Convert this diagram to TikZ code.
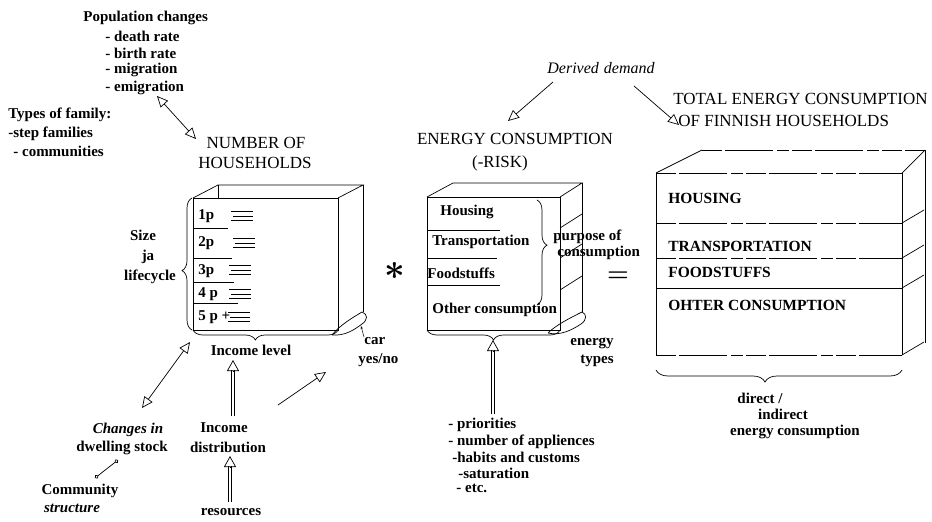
\documentclass[tikz,border=0pt]{standalone}
\usepackage{amsmath,amsfonts,amssymb}
\usepackage{fontspec}
\setmainfont{Liberation Serif}
\usepackage{tikz}
\usetikzlibrary{arrows.meta,decorations.pathreplacing,calc}
\usepackage{xcolor}

\tikzset{
  lbl/.style={font=\fontsize{15}{17}\selectfont\bfseries, inner sep=0pt},
  lblit/.style={font=\fontsize{15}{17}\selectfont\bfseries\itshape, inner sep=0pt},
  titre/.style={font=\fontsize{17}{20}\selectfont, inner sep=0pt},
  boite/.style={font=\fontsize{15.5}{18}\selectfont\bfseries, inner sep=0pt, anchor=west},
  accolade/.style={decorate, decoration={brace, amplitude=#1}},
  accolade/.default=10pt,
  creuse/.style={double, double distance=2.5pt, shorten >=10pt},
  pointe/.style={-{Triangle[open, length=11pt, width=12pt]}},
  tiret/.style={dash pattern=on 20pt off 3pt on 48pt off 4pt on 12pt off 3pt},
}

\begin{document}
\begin{tikzpicture}[x=1pt, y=-1pt, line width=0.7pt, >={Triangle[open, length=11pt, width=10pt]}]
\useasboundingbox (0,0) rectangle (932,522); % cadre de l'image

% Facteurs de population
\node[lbl, anchor=west] (popA) at (83,18) {Population changes};
\node[lbl, anchor=west] (popB) at (105,36) {- death rate};
\node[lbl, anchor=west] (popC) at (105,53) {- birth rate};
\node[lbl, anchor=west] (popD) at (105,70) {- migration};
\node[lbl, anchor=west] (popE) at (105,88) {- emigration};
\node[lbl, anchor=west] (famA) at (8,115) {Types of family:};
\node[lbl, anchor=west] (famB) at (8,134) {-step families};
\node[lbl, anchor=west] (famC) at (13,151) {- communities};

% Les titres
\node[titre] (menA) at (256,143) {NUMBER OF};
\node[titre] (menB) at (255,163) {HOUSEHOLDS};
\node[titre] (ecA) at (515,139) {ENERGY CONSUMPTION};
\node[titre] (ecB) at (500,163) {(-RISK)};
\node[titre, anchor=west] (totA) at (673,99) {TOTAL ENERGY CONSUMPTION};
\node[titre, anchor=west] (totB) at (678,121) {OF FINNISH HOUSEHOLDS};
\node[font=\fontsize{16}{18}\selectfont\itshape, inner sep=0pt] (dem) at (601,68) {Derived\hspace{5pt}demand};

% Flèches du haut
\coordinate (p1) at (157,96);
\coordinate (p2) at (196,139);
\draw[<->] (p1) -- (p2);
\coordinate (d1) at (553,82);
\coordinate (d2) at (508,121);
\draw[->] (d1) -- (d2);
\coordinate (d3) at (634,86);
\coordinate (d4) at (679,125);
\draw[->] (d3) -- (d4);

% Boîte des ménages
\draw (193,198) rectangle (338,330); % face avant
\draw (193,198) -- (218,185) -- (363,185) -- (338,198); % dessus
\draw (218,185) -- (218,198);
\draw (363,185) -- (363,312); % côté
\node[lbl, anchor=west] (m1) at (198,216) {1p};
\node[lbl, anchor=west] (m2) at (198,243) {2p};
\node[lbl, anchor=west] (m3) at (198,271) {3p};
\node[lbl, anchor=west] (m4) at (198,294) {4 p};
\node[lbl, anchor=west] (m5) at (198,317) {5 p +};
\draw (193,228) -- (228,228);
\draw (193,258) -- (232,258);
\draw (193,282) -- (234,282);
\draw (193,303) -- (238,303);
% Petits traits
\foreach \y/\x in {216/231, 243/233, 270/229, 294/229, 317/228} {
  \draw[line width=0.6pt] (\x,\y-5) -- +(22,0);
  \draw[line width=0.6pt] (\x+2,\y) -- +(20,0);
  \draw[line width=0.6pt] (\x,\y+4) -- +(22,0);
}
\draw[accolade, decoration={aspect=0.45}] (192,330) -- (192,198);
\draw[accolade, decoration={aspect=0.57}] (338,330) -- (193,330);
\draw (332,335) .. controls (340,325) and (352,318) .. (362,312) .. controls (368,314) and (368,320) .. (362,324) .. controls (354,330) and (345,336) .. (332,335);
\node[lbl] (taille) at (143,235) {Size};
\node[lbl] (ja) at (148,257) {ja};
\node[lbl] (cycle) at (150,277) {lifecycle};
\node[lbl, anchor=west] (car) at (364,341) {car};
\node[lbl, anchor=west] (oui) at (358,360) {yes/no};
\draw[-{Stealth[length=3pt]}, line width=0.5pt] (car.north west) -- (361,326);
\node[lbl] (revenu) at (251,350) {Income level};

% Signes
\node[inner sep=0pt, font=\fontsize{24}{24}\selectfont] (fois) at (395,271) {\scalebox{1.45}{$\boldsymbol{\ast}$}};
\node[inner sep=0pt, font=\fontsize{24}{24}\selectfont] (egal) at (618,277) {$\boldsymbol{=}$};

% Boîte de la consommation
\draw (427,197) rectangle (560,330);
\draw (427,197) -- (453,183) -- (582,183) -- (560,197);
\draw (582,183) -- (582,312);
\foreach \y in {228,258,290} \draw (560,\y) -- (582,\y-14);
\draw (427,230) -- (500,230);
\draw (427,258) -- (497,258);
\draw (427,285) -- (500,285);
\node[lbl, anchor=west] (c1) at (440,212) {Housing};
\node[lbl, anchor=west] (c2) at (432,242) {Transportation};
\node[lbl, anchor=west] (c3) at (427,273) {Foodstuffs};
\node[lbl, anchor=west] (c4) at (432,310) {Other consumption};
\draw[accolade, decoration={aspect=0.43}] (537,200) -- (537,305);
\node[lbl, anchor=west] (but1) at (553,237) {purpose of};
\node[lbl, anchor=west] (but2) at (557,253) {consumption};
\draw (548,333) .. controls (556,325) and (570,318) .. (582,312) .. controls (587,314) and (587,320) .. (581,324) .. controls (572,330) and (560,336) .. (548,333);
\node[lbl, anchor=west] (en1) at (570,343) {energy};
\node[lbl, anchor=west] (en2) at (580,361) {types};
\draw[accolade] (560,330) -- (427,330);

% Facteurs du bas
\node[lbl, anchor=west] (f1) at (448,425) {- priorities};
\node[lbl, anchor=west] (f2) at (448,442) {- number of appliences};
\node[lbl, anchor=west] (f3) at (452,457) {-habits and customs};
\node[lbl, anchor=west] (f4) at (458,473) {-saturation};
\node[lbl, anchor=west] (f5) at (456,488) {- etc.};
\coordinate (h1) at (493,414);
\coordinate (h2) at (493,340);
\draw[creuse] (h1) -- (h2);
\draw[pointe] ($(h2)+(0,11)$) -- (h2);

% Boîte du total
\draw (656,173) -- (702,150);
\draw[tiret] (656,173) -- (902,173);
\draw[tiret] (702,150) -- (925,150);
\draw (925,150) -- (902,173);
\draw (656,173) -- (656,355);
\draw (902,173) -- (902,355);
\draw (925,150) -- (925,343);
\draw[tiret] (656,223) -- (902,223);
\draw[tiret] (656,258) -- (902,258);
\draw (656,288) -- (902,288);
\draw[tiret] (656,355) -- (902,355);
\foreach \y in {223,258,288,355} \draw (902,\y) -- (924,\y-13);
\node[boite] (t1) at (668,198) {HOUSING};
\node[boite] (t2) at (668,246) {TRANSPORTATION};
\node[boite] (t3) at (668,272) {FOODSTUFFS};
\node[boite] (t4) at (668,305) {OHTER CONSUMPTION};
\draw[accolade=12pt, decoration={aspect=0.557}] (902,370) -- (656,370);
\node[lbl] (dir1) at (760,398) {direct /};
\node[lbl] (dir2) at (783,414) {indirect};
\node[lbl] (dir3) at (795,432) {energy consumption};

% Bas à gauche
\node[lblit] (chg1) at (128,430) {Changes in};
\node[lbl] (chg2) at (122,448) {dwelling stock};
\node[lbl] (com1) at (80,491) {Community};
\node[lblit] (com2) at (72,508) {structure};
\node[lbl] (inc1) at (224,428) {Income};
\node[lbl] (inc2) at (228,447) {distribution};
\node[lbl] (res) at (231,512) {resources};
\coordinate (a1) at (142,408);
\coordinate (a2) at (190,342);
\draw[<->] (a1) -- (a2);
\coordinate (s1) at (95,478);
\coordinate (s2) at (118,460);
\draw[{Circle[open, length=4pt]}-{Circle[open, length=4pt]}] (s1) -- (s2);
\coordinate (i1) at (233,416);
\coordinate (i2) at (233,360);
\draw[creuse] (i1) -- (i2);
\draw[pointe] ($(i2)+(0,11)$) -- (i2);
\coordinate (r1) at (230,502);
\coordinate (r2) at (230,456);
\draw[creuse] (r1) -- (r2);
\draw[pointe] ($(r2)+(0,11)$) -- (r2);
\coordinate (b1) at (278,405);
\coordinate (b2) at (326,372);
\draw[->] (b1) -- (b2);
\end{tikzpicture}
\end{document}
